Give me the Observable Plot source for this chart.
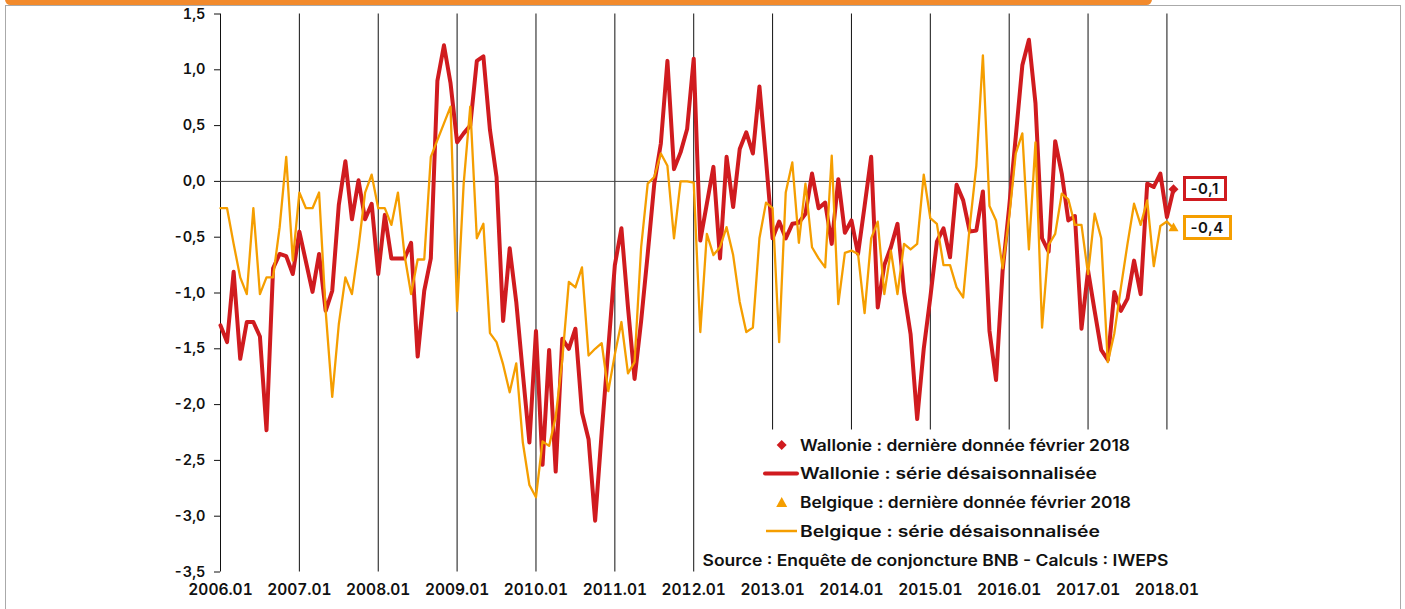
<!DOCTYPE html>
<html>
<head>
<meta charset="utf-8">
<script src="https://cdn.jsdelivr.net/npm/d3@7"></script>
<script src="https://cdn.jsdelivr.net/npm/@observablehq/plot@0.6"></script>
<style>
  html, body { margin: 0; padding: 0; background: #fff; }
  #wrap { position: relative; width: 1405px; height: 609px; overflow: hidden; font-family: Inter, "DejaVu Sans", sans-serif; font-weight: 600; }
  #wrap svg.plot { position: absolute; left: 0; top: 0; font-weight: 600; }
  .frame { position: absolute; left: 5px; top: 5px; width: 1396px; height: 640px; border: 1px solid #aaa; box-sizing: border-box; pointer-events: none; }
  .bar { position: absolute; left: 5px; top: -6px; width: 1147px; height: 10.5px; background: #F28A2C; border-radius: 6px; }
  .tag { position: absolute; box-sizing: border-box; height: 25px; padding: 0 5px; background: #fff; font-size: 15px; line-height: 19px; color: #111; white-space: nowrap; letter-spacing: 0.5px; }
  #legend { position: absolute; left: 0; top: 0; pointer-events: none; }
</style>
</head>
<body>
<div id="wrap"></div>
<script>
// ---- data -------------------------------------------------------------
const yearLabels = ["2006.01","2007.01","2008.01","2009.01","2010.01","2011.01","2012.01",
                    "2013.01","2014.01","2015.01","2016.01","2017.01","2018.01"];
const yTicks = [1.5, 1.0, 0.5, 0.0, -0.5, -1.0, -1.5, -2.0, -2.5, -3.0, -3.5];

// monthly values from 2006.01 to 2018.02
const wallonie = [
  -1.29,-1.44,-0.81,-1.59,-1.26,-1.26,-1.39,-2.23,-0.78,-0.65,-0.67,-0.83,
  -0.45,-0.72,-0.99,-0.65,-1.16,-0.98,-0.21, 0.18,-0.34, 0.01,-0.34,-0.20,
  -0.83,-0.30,-0.69,-0.69,-0.69,-0.55,-1.57,-0.98,-0.69, 0.90, 1.22, 0.88,
   0.35, 0.43, 0.50, 1.08, 1.12, 0.46, 0.04,-1.25,-0.60,-1.08,-1.72,-2.34,
  -1.34,-2.54,-1.51,-2.60,-1.41,-1.50,-1.32,-2.07,-2.31,-3.04,-2.25,-1.50,
  -0.75,-0.42,-1.13,-1.77,-1.25,-0.65,-0.02, 0.34, 1.08, 0.11, 0.26, 0.47,
   1.10,-0.53,-0.20, 0.13,-0.69, 0.22,-0.23, 0.29, 0.44, 0.25, 0.85, 0.19,
  -0.51,-0.36,-0.51,-0.38,-0.37,-0.29, 0.07,-0.24,-0.19,-0.56, 0.02,-0.46,
  -0.35,-0.65,-0.22, 0.22,-1.13,-0.75,-0.59,-0.38,-0.99,-1.37,-2.13,-1.50,
  -1.04,-0.54,-0.42,-0.68,-0.03,-0.17,-0.45,-0.44,-0.09,-1.34,-1.78,-0.80,
  -0.23, 0.40, 1.04, 1.27, 0.70,-0.51,-0.63, 0.36, 0.07,-0.35,-0.31,-1.32,
  -0.80,-1.16,-1.51,-1.60,-0.99,-1.16,-1.05,-0.71,-1.01,-0.02,-0.05, 0.07,
  -0.32,-0.07
];
const belgique = [
  -0.24,-0.24,-0.56,-0.86,-1.01,-0.24,-1.01,-0.86,-0.86,-0.41, 0.22,-0.71,
  -0.10,-0.24,-0.24,-0.10,-1.16,-1.93,-1.28,-0.86,-1.01,-0.59,-0.10, 0.06,
  -0.24,-0.24,-0.39,-0.10,-0.66,-1.01,-0.70,-0.70, 0.22, 0.37, 0.52, 0.67,
  -1.16,-0.02, 0.67,-0.51,-0.38,-1.36,-1.44,-1.64,-1.89,-1.63,-2.34,-2.72,
  -2.83,-2.33,-2.37,-2.11,-1.60,-0.90,-0.95,-0.77,-1.56,-1.50,-1.45,-1.88,
  -1.55,-1.26,-1.72,-1.62,-0.59,-0.02, 0.04, 0.25, 0.14,-0.51, 0.00, 0.00,
  -0.01,-1.35,-0.47,-0.66,-0.59,-0.41,-0.66,-1.08,-1.35,-1.31,-0.51,-0.19,
  -0.24,-1.44,-0.10, 0.17,-0.55,-0.02,-0.59,-0.69,-0.77, 0.23,-1.10,-0.64,
  -0.62,-0.65,-1.18,-0.51,-0.36,-1.01,-0.62,-1.01,-0.56,-0.61,-0.56, 0.06,
  -0.33,-0.38,-0.75,-0.75,-0.95,-1.04,-0.40, 0.14, 1.13,-0.22,-0.35,-0.78,
  -0.32, 0.25, 0.43,-0.61, 0.35,-1.31,-0.57,-0.47,-0.11,-0.16,-0.39,-0.39,
  -0.83,-0.29,-0.51,-1.62,-1.36,-0.95,-0.56,-0.20,-0.39,-0.17,-0.76,-0.40,
  -0.36,-0.42
];

const legendLabels = [
  "Wallonie : dernière donnée février 2018",
  "Wallonie : série désaisonnalisée",
  "Belgique : dernière donnée février 2018",
  "Belgique : série désaisonnalisée"
];
const sourceText = "Source : Enquête de conjoncture BNB - Calculs : IWEPS";

// ---- derived ----------------------------------------------------------
const RED = "#D01B1F", ORANGE = "#F59E00";
const rows = wallonie.map((w, i) => ({i, w, b: belgique[i]}));
const last = rows[rows.length - 1];
const yearIdx = yearLabels.map((_, k) => k * 12);
const fmt = v => d3.format(".1f")(v).replace(".", ",").replace("\u2212", "-");

const chart = Plot.plot({
  width: 1405,
  height: 609,
  marginLeft: 220,
  marginRight: 232,
  marginTop: 13.5,
  marginBottom: 37.5,
  style: {fontFamily: "Inter, DejaVu Sans, sans-serif", color: "#111", background: "#fff"},
  x: {domain: [0, rows.length - 1]},
  y: {domain: [-3.5, 1.5]},
  marks: [
    Plot.ruleX(yearIdx, {y1: -3.5, y2: 1.5, stroke: "#111", strokeWidth: 1}),
    Plot.ruleY([0], {stroke: "#444", strokeWidth: 1}),
    Plot.axisY({ticks: yTicks, tickSize: 6, tickPadding: 9, tickFormat: fmt, fontSize: 14.5, stroke: "#111", label: null}),
    Plot.axisX({ticks: yearIdx, tickSize: 0, tickPadding: 12, tickFormat: i => yearLabels[i / 12], fontSize: 15.5, label: null}),
    Plot.line(rows, {x: "i", y: "w", stroke: RED, strokeWidth: 4, strokeLinejoin: "round"}),
    Plot.line(rows, {x: "i", y: "b", stroke: ORANGE, strokeWidth: 2.3, strokeLinejoin: "round"}),
    Plot.dot([last], {x: "i", y: "w", symbol: "diamond2", r: 4.5, fill: RED}),
    Plot.dot([last], {x: "i", y: "b", symbol: "triangle2", r: 4.8, fill: ORANGE})
  ]
});
chart.classList.add("plot");

const wrap = document.getElementById("wrap");
wrap.appendChild(chart);

const xs = chart.scale("x"), ys = chart.scale("y");

// value tags for the last data point
function tag(value, color, width) {
  const d = document.createElement("div");
  d.className = "tag";
  d.style.border = `${width}px solid ${color}`;
  d.textContent = fmt(value);
  d.style.left = (xs.apply(last.i) + 9.5) + "px";
  d.style.top = (ys.apply(value) - 12.5) + "px";
  wrap.appendChild(d);
}
tag(last.w, RED, 3.5);
tag(last.b, ORANGE, 3);

// legend block
const ns = "http://www.w3.org/2000/svg";
const lg = document.createElementNS(ns, "svg");
lg.setAttribute("id", "legend");
lg.setAttribute("width", 1405);
lg.setAttribute("height", 609);
const rowY = [445, 473.5, 502.5, 531];
const textLens = [330, 297, 331, 300];
let html = `<rect x="698" y="429.5" width="472" height="144" fill="#fff"/>`;
html += `<path d="M781.7,${rowY[0]-5} L786.7,${rowY[0]} L781.7,${rowY[0]+5} L776.7,${rowY[0]} Z" fill="${RED}"/>`;
html += `<line x1="765" x2="797" y1="${rowY[1]}" y2="${rowY[1]}" stroke="${RED}" stroke-width="4" stroke-linecap="round"/>`;
html += `<path d="M781.7,${rowY[2]-5.5} L787.2,${rowY[2]+4.5} L776.2,${rowY[2]+4.5} Z" fill="${ORANGE}"/>`;
html += `<line x1="766" x2="797" y1="${rowY[3]}" y2="${rowY[3]}" stroke="${ORANGE}" stroke-width="2.5"/>`;
legendLabels.forEach((t, k) => {
  html += `<text x="800" y="${rowY[k]}" dy="0.36em" font-size="15.5" font-weight="600" fill="#111" font-family="Inter, DejaVu Sans" textLength="${textLens[k]}" lengthAdjust="spacingAndGlyphs">${t}</text>`;
});
html += `<text x="702.5" y="560" dy="0.36em" font-size="15.5" font-weight="600" fill="#111" font-family="Inter, DejaVu Sans" textLength="466" lengthAdjust="spacingAndGlyphs">${sourceText}</text>`;
lg.innerHTML = html;
wrap.appendChild(lg);

// frame and top bar
const frame = document.createElement("div"); frame.className = "frame"; wrap.appendChild(frame);
const bar = document.createElement("div"); bar.className = "bar"; wrap.appendChild(bar);
</script>
</body>
</html>
